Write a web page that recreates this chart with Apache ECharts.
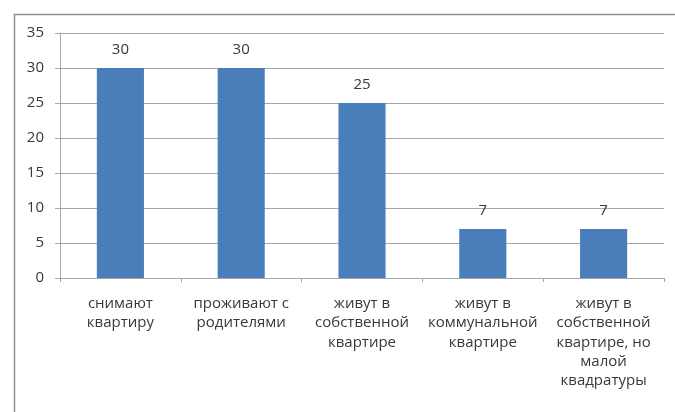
<!DOCTYPE html>
<html>
<head>
<meta charset="utf-8">
<script src="https://cdn.jsdelivr.net/npm/echarts@6/dist/echarts.min.js"></script>
<style>html,body{margin:0;padding:0;background:#fff;}#c{width:675px;height:412px;}</style>
</head>
<body>
<div id="c"></div>
<script>
var categories = [
  "снимают\nквартиру",
  "проживают с\nродителями",
  "живут в\nсобственной\nквартире",
  "живут в\nкоммунальной\nквартире",
  "живут в\nсобственной\nквартире, но\nмалой\nквадратуры"
];
var values = [30, 30, 25, 7, 7];
var yMin = 0, yMax = 35, yStep = 5;

var chart = echarts.init(document.getElementById('c'), null, {renderer: 'canvas'});
var fontFam = '"Open Sans", "Noto Sans", sans-serif';
chart.setOption({
  animation: false,
  backgroundColor: '#ffffff',
  graphic: [{
    type: 'rect',
    left: 12, top: 12,
    shape: {width: 700, height: 450},
    style: {fill: 'none', stroke: '#8f8f8f', lineWidth: 1.5},
    silent: true
  }],
  grid: {left: 60, right: 11, top: 33, bottom: 134, containLabel: false},
  xAxis: {
    type: 'category',
    data: categories,
    axisLine: {show: true, lineStyle: {color: '#a6a6a6', width: 1}},
    axisTick: {show: true, length: 4, alignWithLabel: false, lineStyle: {color: '#a6a6a6'}},
    axisLabel: {
      interval: 0, margin: 16, color: '#383838',
      fontFamily: fontFam, fontSize: 15, lineHeight: 19.3, align: 'center'
    }
  },
  yAxis: {
    type: 'value',
    min: yMin, max: yMax, interval: yStep,
    axisLine: {show: true, lineStyle: {color: '#a6a6a6', width: 1}},
    axisTick: {show: true, length: 5, lineStyle: {color: '#a6a6a6'}},
    splitLine: {show: true, lineStyle: {color: '#a6a6a6', width: 1.2}},
    axisLabel: {color: '#383838', fontFamily: fontFam, fontSize: 15, margin: 16}
  },
  series: [{
    type: 'bar',
    data: values,
    barWidth: '39%',
    itemStyle: {color: '#4a7ebb'},
    label: {
      show: true, position: 'top', distance: 11,
      color: '#383838', fontFamily: fontFam, fontSize: 15
    }
  }]
});
</script>
</body>
</html>
